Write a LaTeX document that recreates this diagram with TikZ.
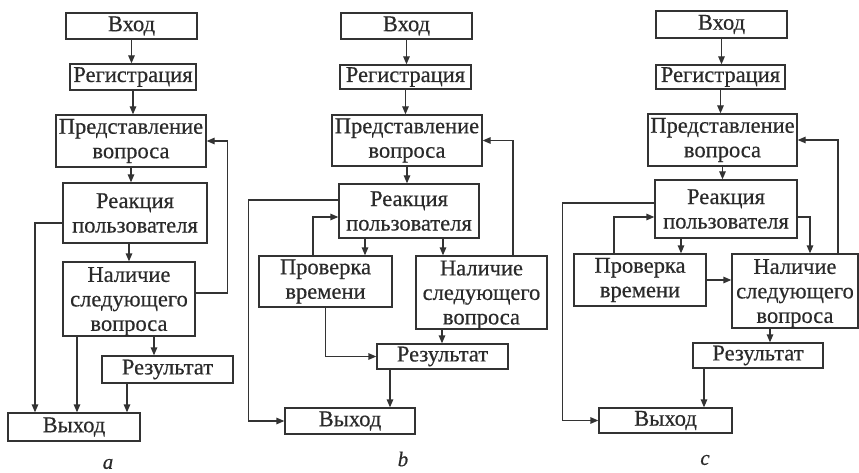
\documentclass[tikz,border=0pt]{standalone}
\usepackage{fontspec}
\setmainfont{Liberation Serif}[FakeBold=0.5]
\usetikzlibrary{arrows.meta}
\definecolor{ink}{HTML}{333333}
\definecolor{txt}{HTML}{2A2A2A}
\tikzset{
  box/.style={draw=ink, line width=1.3pt, inner sep=0pt, align=center, text=txt,
              font=\fontsize{22.5}{24.5}\selectfont},
  low/.style={text depth=0pt},
  arr/.style={draw=ink, line width=1.3pt, -{Triangle[length=8pt,width=6.5pt]}},
  sublabel/.style={text=txt, font=\fontsize{21}{24}\selectfont\itshape},
}
\newcommand\mybox[7][]{%
  \node[box, #1, minimum width={#5pt-#3pt}, minimum height={#6pt-#4pt}]
    (#2) at ({(#3+#5)/2},{(#4+#6)/2}) {#7};}
\begin{document}
\begin{tikzpicture}[x=1pt,y=-1pt]
\useasboundingbox (0,0) rectangle (859,473);
% ---------- a ----------
\mybox{a1}{66}{13}{197}{39}{Вход}
\mybox{a2}{70}{64}{196}{90}{Регистрация}
\mybox{a3}{56}{115}{206}{167}{Представление\\вопроса}
\mybox{a4}{63}{183}{207}{243}{Реакция\\пользователя}
\mybox[low]{a5}{63}{262}{195}{336}{Наличие\\следующего\\вопроса}
\mybox{a6}{102}{356}{233}{383}{Результат}
\mybox{a7}{8}{413}{140}{441}{Выход}
\draw[arr] (a1.south) -- (a1.south |- a2.north);
\draw[arr] (a2.south) -- (a2.south |- a3.north);
\draw[arr] (a3.south) -- (a3.south |- a4.north);
\draw[arr] (a5.north |- a4.south) -- (a5.north);
\draw[arr] ([yshift=6pt]a5.east) -- ++(32,0) |- (a3.east);
\draw[arr] ([yshift=-10pt]a4.west) -| ([xshift=-39pt]a7.north);
\draw[arr] ([xshift=-52pt]a5.south) -- ([xshift=-52pt]a5.south |- a7.north);
\draw[arr] ([xshift=25pt]a5.south) -- ([xshift=25pt]a5.south |- a6.north);
\draw[arr] ([xshift=-40.5pt]a6.south) -- ([xshift=-40.5pt]a6.south |- a7.north);
\node[sublabel] (la) at (108,464) {a};
% ---------- b ----------
\mybox{b1}{341}{13}{472}{39}{Вход}
\mybox{b2}{340}{65}{471}{89}{Регистрация}
\mybox{b3}{332}{115}{482}{166}{Представление\\вопроса}
\mybox{b4}{339}{184}{479}{238}{Реакция\\пользователя}
\mybox{b5}{259}{256}{392}{307}{Проверка\\времени}
\mybox[low]{b6}{416}{256}{547}{329}{Наличие\\следующего\\вопроса}
\mybox{b7}{377}{344}{508}{369}{Результат}
\mybox{b8}{285}{408}{415}{434}{Выход}
\draw[arr] (b1.south) -- (b1.south |- b2.north);
\draw[arr] (b2.south) -- (b2.south |- b3.north);
\draw[arr] (b3.south) -- (b3.south |- b4.north);
\draw[arr] ([xshift=-44pt]b4.south) -- ([xshift=-44pt]b4.south |- b5.north);
\draw[arr] ([xshift=34pt]b4.south) -- ([xshift=34pt]b4.south |- b6.north);
\draw[arr] ([xshift=-12.5pt]b5.north) |- ([yshift=-6pt]b4.west);
\draw[arr] ([yshift=11pt]b4.west) -- ++(-90,0) |- (b8.west);
\draw[arr] ([xshift=31.5pt]b6.north) |- (b3.east);
\draw[arr] (b5.south) |- (b7.west);
\draw[arr] ([xshift=-39.5pt]b6.south) -- ([xshift=-39.5pt]b6.south |- b7.north);
\draw[arr] ([xshift=-52.5pt]b7.south) -- ([xshift=-52.5pt]b7.south |- b8.north);
\node[sublabel] (lb) at (403,459) {b};
% ---------- c ----------
\mybox{c1}{656}{11}{787}{38}{Вход}
\mybox{c2}{656}{65}{785}{89}{Регистрация}
\mybox{c3}{648}{114}{797}{166}{Представление\\вопроса}
\mybox{c4}{655}{180}{797}{238}{Реакция\\пользователя}
\mybox{c5}{574}{254}{706}{306}{Проверка\\времени}
\mybox[low]{c6}{732}{254}{858}{328}{Наличие\\следующего\\вопроса}
\mybox{c7}{693}{343}{823}{368}{Результат}
\mybox{c8}{599}{408}{732}{433}{Выход}
\draw[arr] (c1.south) -- (c1.south |- c2.north);
\draw[arr] (c2.south) -- (c2.south |- c3.north);
\draw[arr] (c3.south) -- (c3.south |- c4.north);
\draw[arr] ([xshift=-45pt]c4.south) -- ([xshift=-45pt]c4.south |- c5.north);
\draw[arr] ([yshift=-8pt]c4.east) -| ([xshift=15pt]c6.north);
\draw[arr] ([xshift=-26pt]c5.north) |- ([yshift=-8pt]c4.west);
\draw[arr] ([yshift=6pt]c4.west) -- ++(-92,0) |- (c8.west);
\draw[arr] ([xshift=43pt]c6.north) |- (c3.east);
\draw[arr] (c5.east) -- (c5.east -| c6.west);
\draw[arr] ([xshift=-25pt]c6.south) -- ([xshift=-25pt]c6.south |- c7.north);
\draw[arr] ([xshift=-54pt]c7.south) -- ([xshift=-54pt]c7.south |- c8.north);
\node[sublabel] (lc) at (705,460) {c};
\end{tikzpicture}
\end{document}
